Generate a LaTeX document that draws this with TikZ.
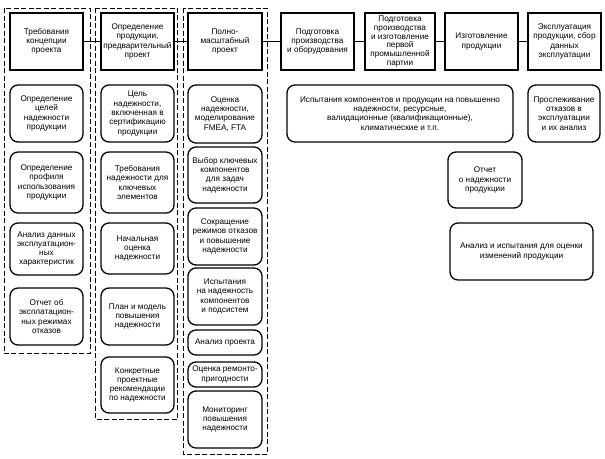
\documentclass[tikz,border=0pt]{standalone}
\usepackage{fontspec}
\setmainfont{Liberation Sans}
\begin{document}
\begin{tikzpicture}[x=1pt,y=-1pt,
  every node/.style={font=\fontsize{8.2}{9.3}\selectfont, align=center, inner sep=0.5pt},
  sbox/.style={draw, line width=1.3pt, rectangle},
  rbox/.style={draw, line width=1.3pt, rectangle, rounded corners=8pt},
  frame/.style={draw, line width=0.8pt, dash pattern=on 5pt off 2.5pt},
  link/.style={draw, line width=1.3pt}]
\useasboundingbox (0,0) rectangle (605,458);
% dashed frames
\draw[frame] (4,8) rectangle (90,353);
\draw[frame] (95,8) rectangle (177.5,419);
\draw[frame] (183,8) rectangle (267,454);
% top row
\node[sbox, minimum width=73pt, minimum height=57pt] (b1) at (46.5,41.5) {Требования\\концепции\\проекта};
\node[sbox, minimum width=73pt, minimum height=57pt] (b2) at (137.5,41.5) {Определение\\продукции,\\предварительный\\проект};
\node[sbox, minimum width=74pt, minimum height=57pt] (b3) at (225,41.5) {Полно-\\масштабный\\проект};
\node[sbox, minimum width=73pt, minimum height=57pt] (b4) at (317.5,41.5) {Подготовка\\производства\\и оборудования};
\node[sbox, minimum width=70pt, minimum height=57pt, font=\fontsize{8.2}{8.9}\selectfont] (b5) at (400,41.5) {Подготовка\\производства\\и изготовление\\первой\\промышленной\\партии};
\node[sbox, minimum width=73pt, minimum height=57pt] (b6) at (481.5,41.5) {Изготовление\\продукции};
\node[sbox, minimum width=73pt, minimum height=57pt] (b7) at (564.5,41.5) {Эксплуатация\\продукции, сбор\\данных\\эксплуатации};
\draw[link] (b1) -- (b2);
\draw[link] (b2) -- (b3);
\draw[link] (b3) -- (b4);
\draw[link] (b4) -- (b5);
\draw[link] (b5) -- (b6);
\draw[link] (b6) -- (b7);
% column 1
\node[rbox, minimum width=73pt, minimum height=57pt] (c1a) at (46.5,113.5) {Определение\\целей\\надежности\\продукции};
\node[rbox, minimum width=73pt, minimum height=61pt] (c1b) at (46.5,182.5) {Определение\\профиля\\использования\\продукции};
\node[rbox, minimum width=73pt, minimum height=52pt] (c1c) at (46.5,249) {Анализ данных\\эксплуатацион-\\ных\\характеристик};
\node[rbox, minimum width=73pt, minimum height=57pt] (c1d) at (46.5,316.5) {Отчет об\\эксплатацион-\\ных режимах\\отказов};
% column 2
\node[rbox, minimum width=73pt, minimum height=57pt] (c2a) at (137.5,113.5) {Цель\\надежности,\\включенная в\\сертификацию\\продукции};
\node[rbox, minimum width=73pt, minimum height=61pt] (c2b) at (137.5,182.5) {Требования\\надежности для\\ключевых\\элементов};
\node[rbox, minimum width=73pt, minimum height=51pt] (c2c) at (137.5,248.5) {Начальная\\оценка\\надежности};
\node[rbox, minimum width=73pt, minimum height=57pt] (c2d) at (137.5,316.5) {План и модель\\повышения\\надежности};
\node[rbox, minimum width=73pt, minimum height=56pt] (c2e) at (137.5,385) {Конкретные\\проектные\\рекомендации\\по надежности};
% column 3
\node[rbox, minimum width=74pt, minimum height=58pt] (c3a) at (225,114) {Оценка\\надежности,\\моделирование\\FMEA, FTA};
\node[rbox, minimum width=74pt, minimum height=56pt] (c3b) at (225,175) {Выбор ключевых\\компонентов\\для задач\\надежности};
\node[rbox, minimum width=74pt, minimum height=57pt] (c3c) at (225,236.5) {Сокращение\\режимов отказов\\и повышение\\надежности};
\node[rbox, minimum width=74pt, minimum height=57pt] (c3d) at (225,296.5) {Испытания\\на надежность\\компонентов\\и подсистем};
\node[rbox, minimum width=74pt, minimum height=25pt] (c3e) at (225,342.5) {Анализ проекта};
\node[rbox, minimum width=74pt, minimum height=25pt] (c3f) at (225,374.5) {Оценка ремонто-\\пригодности};
\node[rbox, minimum width=74pt, minimum height=57pt] (c3g) at (225,419.5) {Мониторинг\\повышения\\надежности};
% right part
\node[rbox, minimum width=226pt, minimum height=57pt] (big) at (400,113.5) {Испытания компонентов и продукции на повышенно\\надежности, ресурсные,\\валидационные (квалификационные),\\климатические и т.п.};
\node[rbox, minimum width=72pt, minimum height=57pt] (trace) at (564,113.5) {Прослеживание\\отказов в\\эксплуатации\\и их анализ};
\node[rbox, minimum width=74pt, minimum height=56pt] (report) at (485,180) {Отчет\\о надежности\\продукции};
\node[rbox, minimum width=143pt, minimum height=57pt] (anal) at (521.5,251.5) {Анализ и испытания для оценки\\изменений продукции};
\end{tikzpicture}
\end{document}
